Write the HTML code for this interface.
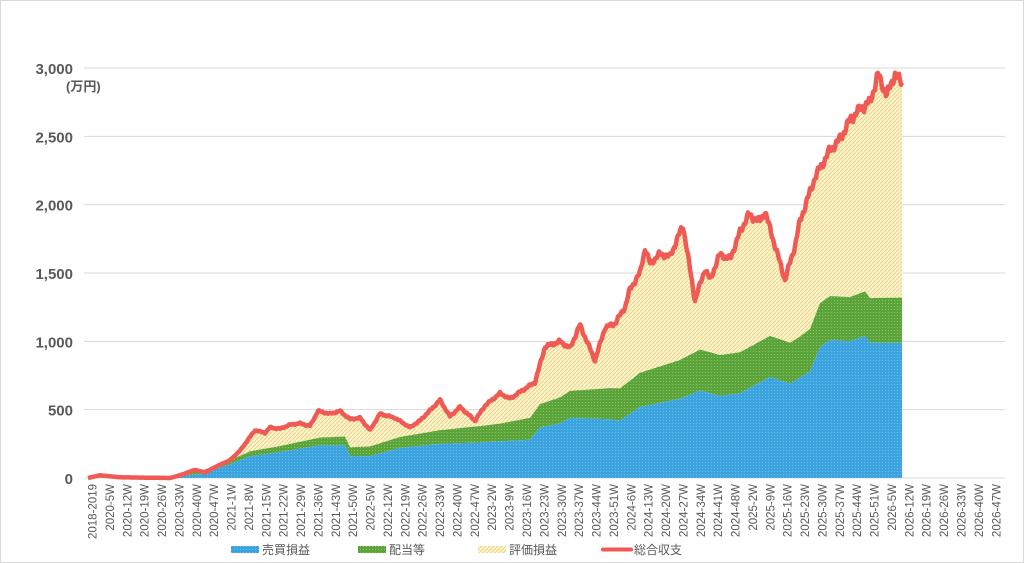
<!DOCTYPE html><html><head><meta charset="utf-8"><style>
body{margin:0;background:#fff}
svg{display:block}
text{font-family:"Liberation Sans","Noto Sans CJK JP",sans-serif;fill:#595959}
</style></head><body>
<svg id="s" width="1024" height="563" xmlns="http://www.w3.org/2000/svg">
<defs>
<pattern id="pb" width="3" height="3" patternUnits="userSpaceOnUse"><rect width="3" height="3" fill="#3ba3dd"/><rect width="1" height="1" fill="#6cbce8"/></pattern>
<pattern id="pg" width="3" height="3" patternUnits="userSpaceOnUse"><rect width="3" height="3" fill="#5ba43a"/><rect width="1" height="1" fill="#8cc46c"/></pattern>
<pattern id="py" width="4" height="4" patternUnits="userSpaceOnUse"><rect width="4" height="4" fill="#f9f3d2"/><path d="M0 4L4 0" stroke="#ecd77f" stroke-width="1"/></pattern>
</defs>
<rect x="0.5" y="0.5" width="1023" height="562" fill="#fff" stroke="#d9d9d9"/>
<g id="g"></g>
</svg>
<script>
const NS="http://www.w3.org/2000/svg",g=document.getElementById('g');
function el(t,a,txt){const e=document.createElementNS(NS,t);for(const k in a)e.setAttribute(k,a[k]);if(txt!=null)e.textContent=txt;g.appendChild(e);return e;}
const Y=v=>478-v*410/3000;
for(let v=0;v<=3000;v+=500){el('line',{x1:84,x2:1005,y1:Y(v),y2:Y(v),stroke:'#d9d9d9','stroke-width':1});
el('text',{x:73,y:Y(v)+6,'text-anchor':'end','font-size':15,'font-weight':'bold'},v.toLocaleString('en-US'));}
el('text',{x:66,y:91,'font-size':13,'font-weight':'bold',fill:'#222'},'(万円)');
function f(pts){return x=>{if(x<=pts[0][0])return pts[0][1];for(let i=1;i<pts.length;i++)if(x<=pts[i][0]){const[a,b]=pts[i-1],[c,d]=pts[i];return b+(d-b)*(x-a)/(c-a);}return pts[pts.length-1][1];};}
const R0=f([[88,0],[100,20],[120,5],[170,0],[180,20],[195,60],[205,40],[215,80],[230,130],[240,200],[255,350],[265,330],[270,370],[280,360],[290,390],[300,400],[310,380],[318,490],[330,470],[340,490],[350,430],[360,440],[370,350],[380,470],[395,440],[410,370],[420,420],[440,570],[450,450],[460,520],[475,420],[485,530],[500,620],[510,580],[520,630],[535,700],[545,960],[560,1000],[570,950],[580,1120],[595,860],[605,1100],[615,1130],[625,1250],[630,1380],[640,1500],[645,1680],[650,1570],[660,1640],[670,1620],[683,1850],[695,1300],[705,1530],[710,1450],[720,1640],[730,1600],[740,1800],[748,1920],[760,1880],[765,1950],[775,1700],[785,1450],[795,1700],[800,1880],[815,2200],[830,2400],[840,2480],[850,2620],[860,2700],[870,2750],[878,2950],[887,2800],[895,2960],[900,2900]]);
const R=x=>{const v=R0(x);return Math.max(0,v+v*0.008*(Math.sin(x*1.7)+Math.sin(x*0.63+1)));};
const B=f([[88,0],[170,0],[200,30],[230,100],[250,160],[280,190],[320,240],[345,240],[350,160],[370,160],[400,220],[440,250],[480,260],[530,280],[540,370],[560,400],[570,440],[610,430],[620,420],[640,520],[680,580],[700,640],[720,600],[740,620],[750,660],[770,740],[790,690],[810,780],[820,960],[830,1010],[850,1000],[865,1040],[870,990],[900,990]]);
const D=f([[88,0],[200,20],[300,50],[400,80],[500,130],[560,190],[640,250],[700,300],[800,300],[820,320],[900,330]]);
let xs=[];for(let x=88;x<=902;x++)xs.push(x);
const G=x=>B(x)+D(x);
const area=(top,bot,fill)=>{let p=xs.map(x=>x+','+Y(top(x)).toFixed(1));p=p.concat(xs.slice().reverse().map(x=>x+','+Y(bot(x)).toFixed(1)));el('polygon',{points:p.join(' '),fill:fill});};
area(x=>Math.max(R(x),G(x)),G,'url(#py)');
area(G,B,'url(#pg)');
area(B,()=>0,'url(#pb)');
el('polyline',{points:xs.map(x=>x+','+Y(R(x)).toFixed(1)).join(' '),fill:'none',stroke:'#f05a55','stroke-width':4.5,'stroke-linejoin':'round'});
const labs=['2018-2019'];const yrs=[[2020,[5,12,19,26,33,40,47]],[2021,[1,8,15,22,29,36,43,50]],[2022,[5,12,19,26,33,40,47]],[2023,[2,9,16,23,30,37,44,51]],[2024,[6,13,20,27,34,41,48]],[2025,[2,9,16,23,30,37,44,51]],[2026,[5,12,19,26,33,40,47]]];
yrs.forEach(([y,ws])=>ws.forEach(w=>labs.push(y+'-'+w+'W')));
labs.forEach((l,i)=>{const x=92+i*17.38;el('text',{transform:`translate(${x+4.5},484) rotate(-90)`,'text-anchor':'end','font-size':11.5},l);});
const lg=[[231,'url(#pb)','売買損益'],[358,'url(#pg)','配当等'],[478,'url(#py)','評価損益']];
lg.forEach(([x,c,t])=>{el('rect',{x:x,y:546,width:28,height:7,fill:c});el('text',{x:x+31,y:554,'font-size':12},t);});
el('line',{x1:603,x2:631,y1:549.5,y2:549.5,stroke:'#f05a55','stroke-width':4,'stroke-linecap':'round'});
el('text',{x:634,y:554,'font-size':12},'総合収支');
</script>
</body></html>
